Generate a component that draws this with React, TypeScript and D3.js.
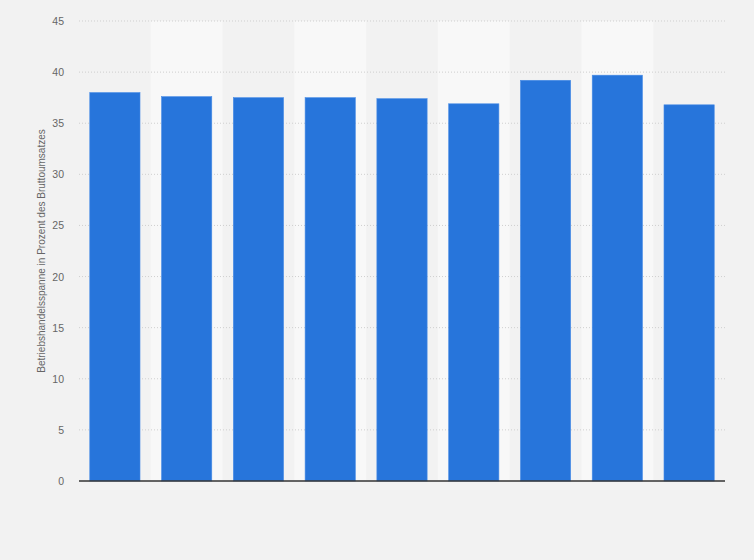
import { useMemo } from "react";
import * as d3 from "d3";

/* ------------------------------------------------------------------ */
/*  Data                                                              */
/* ------------------------------------------------------------------ */

// category labels are not shown in the picture, only the slots
const categories = ["1", "2", "3", "4", "5", "6", "7", "8", "9"];
const values = [38.0, 37.6, 37.5, 37.5, 37.4, 36.9, 39.2, 39.7, 36.8];
const yTicks = [0, 5, 10, 15, 20, 25, 30, 35, 40, 45];
const yLabel = "Betriebshandelsspanne in Prozent des Bruttoumsatzes";

/* ------------------------------------------------------------------ */
/*  Component                                                         */
/* ------------------------------------------------------------------ */

const W = 754;
const H = 560;
const margin = { top: 21, right: 29, bottom: 79, left: 79 };
const FONT = "'Liberation Sans', Arial, sans-serif";

export default function App() {
  const x = useMemo(
    () =>
      d3
        .scaleBand<string>()
        .domain(categories)
        .range([margin.left, W - margin.right])
        .paddingInner(0)
        .paddingOuter(0),
    [],
  );
  const y = useMemo(
    () => d3.scaleLinear().domain([0, 45]).range([H - margin.bottom, margin.top]),
    [],
  );

  const bw = x.bandwidth();
  const barW = bw * 0.7;

  return (
    <svg
      width={W}
      height={H}
      style={{ position: "absolute", left: 0, top: 0, display: "block" }}
      fontFamily={FONT}
    >
      <rect width={W} height={H} fill="#f2f2f2" />

      {/* alternating column shading */}
      {categories.map((c, i) =>
        i % 2 === 1 ? (
          <rect
            key={"band" + c}
            x={x(c)}
            y={y(45)}
            width={bw}
            height={y(0) - y(45)}
            fill="#f8f8f8"
          />
        ) : null,
      )}

      {/* grid + tick labels */}
      {yTicks.map((t) => (
        <g key={t}>
          {t > 0 && (
            <line
              x1={margin.left}
              x2={W - margin.right}
              y1={y(t)}
              y2={y(t)}
              stroke="#cfcfcf"
              strokeWidth={1}
              strokeDasharray="1,2"
            />
          )}
          <text
            x={64}
            y={y(t)}
            textAnchor="end"
            dominantBaseline="central"
            fontSize={10.5}
            fill="#666"
          >
            {t}
          </text>
        </g>
      ))}

      {/* bars */}
      {categories.map((c, i) => (
        <rect
          key={c}
          x={(x(c) ?? 0) + (bw - barW) / 2}
          y={y(values[i])}
          width={barW}
          height={y(0) - y(values[i])}
          fill="#2775db"
          stroke="#4a8de6"
          strokeWidth={0.6}
        />
      ))}

      {/* baseline */}
      <line
        x1={margin.left}
        x2={W - margin.right}
        y1={y(0)}
        y2={y(0)}
        stroke="#333"
        strokeWidth={1.3}
      />

      {/* axis title */}
      <text
        transform={`translate(41,${(y(0) + y(45)) / 2}) rotate(-90)`}
        textAnchor="middle"
        dominantBaseline="central"
        fontSize={10}
        fill="#666"
      >
        {yLabel}
      </text>
    </svg>
  );
}
